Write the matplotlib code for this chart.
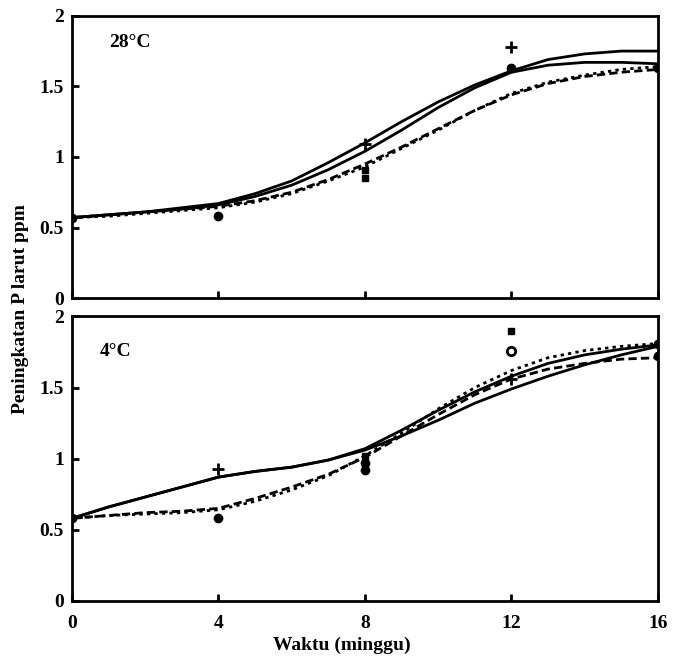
import matplotlib
matplotlib.use("Agg")
import matplotlib.pyplot as plt

plt.rcParams['font.family'] = ['Liberation Serif', 'DejaVu Serif']
plt.rcParams['font.weight'] = 'bold'

########################### Data ###########################
weeks = list(range(0, 17))

# 28 C panel
top_solid1 = [0.57, 0.59, 0.61, 0.64, 0.67, 0.74, 0.83, 0.96, 1.10, 1.25, 1.39, 1.51, 1.61, 1.69, 1.73, 1.75, 1.75]
top_solid2 = [0.57, 0.59, 0.61, 0.63, 0.66, 0.72, 0.80, 0.91, 1.04, 1.19, 1.35, 1.49, 1.60, 1.65, 1.67, 1.67, 1.66]
top_dash = [0.57, 0.59, 0.61, 0.63, 0.65, 0.69, 0.75, 0.84, 0.95, 1.07, 1.20, 1.33, 1.44, 1.52, 1.57, 1.60, 1.62]
top_dot = [0.57, 0.58, 0.60, 0.62, 0.64, 0.68, 0.74, 0.83, 0.93, 1.06, 1.19, 1.33, 1.45, 1.53, 1.58, 1.62, 1.64]

top_dots_x = [0, 4, 12, 16]
top_dots_y = [0.57, 0.58, 1.63, 1.63]
top_sq_x = [8, 8]
top_sq_y = [0.91, 0.85]
top_plus_x = [8, 12]
top_plus_y = [1.09, 1.78]

# 4 C panel
bot_solid1 = [0.58, 0.66, 0.73, 0.80, 0.87, 0.91, 0.94, 0.99, 1.07, 1.20, 1.34, 1.47, 1.58, 1.67, 1.73, 1.77, 1.80]
bot_solid2 = [0.58, 0.66, 0.73, 0.80, 0.87, 0.91, 0.94, 0.99, 1.06, 1.16, 1.27, 1.39, 1.49, 1.58, 1.66, 1.73, 1.79]
bot_dot = [0.58, 0.60, 0.61, 0.62, 0.64, 0.70, 0.78, 0.88, 1.02, 1.18, 1.35, 1.50, 1.62, 1.71, 1.76, 1.79, 1.81]
bot_dash = [0.58, 0.60, 0.62, 0.63, 0.65, 0.72, 0.80, 0.89, 1.01, 1.16, 1.31, 1.45, 1.56, 1.63, 1.67, 1.70, 1.71]

bot_dots_x = [0, 4, 8, 8, 16, 16]
bot_dots_y = [0.58, 0.58, 0.97, 0.92, 1.72, 1.81]
bot_sq_x = [8, 12]
bot_sq_y = [1.02, 1.90]
bot_circ_x = [12]
bot_circ_y = [1.76]
bot_plus_x = [4, 12]
bot_plus_y = [0.93, 1.56]

yticks = [0, 0.5, 1, 1.5, 2]
yticklabels = ['0', '0.5', '1', '1.5', '2']
xticks = [0, 4, 8, 12, 16]

########################### Plot ###########################
fig = plt.figure(figsize=(6.75, 6.58), dpi=100)
ax1 = fig.add_axes([0.1067, 0.547, 0.868, 0.429])
ax2 = fig.add_axes([0.1067, 0.087, 0.868, 0.432])

lw = 2.0
ax1.plot(weeks, top_solid1, color='black', lw=lw)
ax1.plot(weeks, top_solid2, color='black', lw=lw)
ax1.plot(weeks, top_dash, color='black', lw=lw, dashes=(3, 1.5))
ax1.plot(weeks, top_dot, color='black', lw=lw, dashes=(1.2, 1.5))
ax1.plot(top_dots_x, top_dots_y, 'o', color='black', ms=6)
ax1.plot(top_sq_x, top_sq_y, 's', color='black', ms=5)
ax1.plot(top_plus_x, top_plus_y, '+', color='black', ms=8, mew=2)
ax1.text(1.0, 1.78, '28°C', fontsize=14, fontweight='bold')

ax2.plot(weeks, bot_solid1, color='black', lw=lw)
ax2.plot(weeks, bot_solid2, color='black', lw=lw)
ax2.plot(weeks, bot_dot, color='black', lw=lw, dashes=(1.2, 1.5))
ax2.plot(weeks, bot_dash, color='black', lw=lw, dashes=(3, 1.5))
ax2.plot(bot_dots_x, bot_dots_y, 'o', color='black', ms=6)
ax2.plot(bot_sq_x, bot_sq_y, 's', color='black', ms=5)
ax2.plot(bot_circ_x, bot_circ_y, 'o', mfc='white', mec='black', mew=2, ms=6)
ax2.plot(bot_plus_x, bot_plus_y, '+', color='black', ms=8, mew=2)
ax2.text(0.75, 1.72, '4°C', fontsize=14, fontweight='bold')

for ax in (ax1, ax2):
    ax.set_xlim(0, 16)
    ax.set_ylim(0, 2)
    ax.set_yticks(yticks)
    ax.set_yticklabels(yticklabels, fontsize=14, fontweight='bold')
    ax.set_xticks(xticks)
    ax.tick_params(direction='in', length=5, width=2, pad=6)
    for s in ax.spines.values():
        s.set_linewidth(2)

ax1.set_xticklabels([])
ax2.set_xticklabels([str(t) for t in xticks], fontsize=14, fontweight='bold')
ax2.tick_params(axis='x', pad=10)
ax2.set_xlabel('Waktu (minggu)', fontsize=14, fontweight='bold')
ax2.xaxis.set_label_coords(0.46, -0.125)

fig.text(0.03, 0.53, 'Peningkatan P larut ppm', rotation=90, fontsize=14,
         fontweight='bold', ha='center', va='center')

fig.savefig('out.png', dpi=100)
